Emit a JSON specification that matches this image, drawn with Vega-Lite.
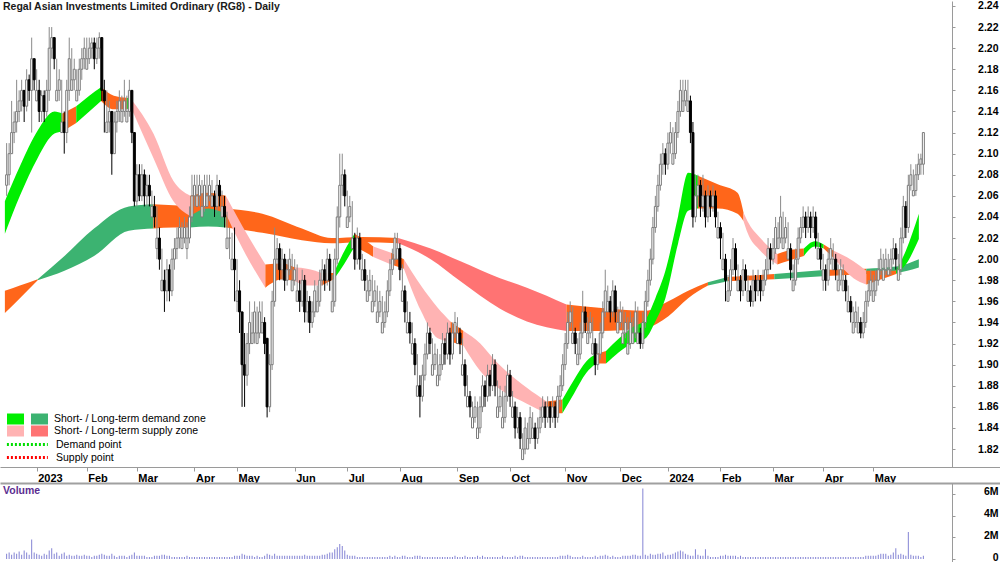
{
"$schema": "https://vega.github.io/schema/vega-lite/v6.json",
"padding": 0,
"background": "white",
"spacing": 0,
"config": {"view": {"stroke": null}, "font": "Liberation Sans", "axis": {"grid": false, "title": null, "labelOverlap": false, "labelFont": "Liberation Sans", "labelFontWeight": "bold", "labelFontSize": 11, "labelColor": "#000000", "domainColor": "#9a9a9a", "tickColor": "#9a9a9a"}},
"datasets": {
"px": [
{"t":-12,"o":2.07,"h":2.11,"l":2.06,"c":2.08,"v":0.5},{"t":-11,"o":2.08,"h":2.11,"l":2.07,"c":2.10,"v":0.6},{"t":-10,"o":2.10,"h":2.15,"l":2.10,"c":2.12,"v":0.4},{"t":-9,"o":2.12,"h":2.14,"l":2.11,"c":2.13,"v":0.6},{"t":-8,"o":2.13,"h":2.17,"l":2.12,"c":2.14,"v":0.5},{"t":-7,"o":2.14,"h":2.16,"l":2.13,"c":2.15,"v":0.7},{"t":-6,"o":2.15,"h":2.17,"l":2.14,"c":2.16,"v":0.4},{"t":-5,"o":2.16,"h":2.16,"l":2.13,"c":2.145,"v":0.8},{"t":-4,"o":2.145,"h":2.18,"l":2.14,"c":2.17,"v":0.6},{"t":-3,"o":2.17,"h":2.175,"l":2.15,"c":2.16,"v":0.4},{"t":-2,"o":2.16,"h":2.21,"l":2.12,"c":2.19,"v":1.8},{"t":-1,"o":2.19,"h":2.19,"l":2.16,"c":2.17,"v":0.6},
{"t":0,"o":2.15,"h":2.18,"l":2.15,"c":2.16,"v":0.5},{"t":1,"o":2.16,"h":2.17,"l":2.13,"c":2.14,"v":0.4},{"t":2,"o":2.14,"h":2.16,"l":2.13,"c":2.155,"v":0.3},{"t":3,"o":2.155,"h":2.16,"l":2.13,"c":2.14,"v":0.5},{"t":4,"o":2.14,"h":2.17,"l":2.135,"c":2.16,"v":0.4},{"t":5,"o":2.16,"h":2.22,"l":2.15,"c":2.20,"v":0.8},{"t":6,"o":2.20,"h":2.22,"l":2.19,"c":2.21,"v":1.0},{"t":7,"o":2.21,"h":2.21,"l":2.18,"c":2.19,"v":0.5},{"t":8,"o":2.15,"h":2.19,"l":2.15,"c":2.16,"v":0.6},{"t":9,"o":2.16,"h":2.18,"l":2.15,"c":2.17,"v":0.3},
{"t":10,"o":2.12,"h":2.17,"l":2.12,"c":2.13,"v":0.5},{"t":11,"o":2.13,"h":2.14,"l":2.10,"c":2.12,"v":0.6},{"t":12,"o":2.12,"h":2.17,"l":2.11,"c":2.16,"v":0.3},{"t":13,"o":2.16,"h":2.21,"l":2.15,"c":2.19,"v":0.4},{"t":14,"o":2.16,"h":2.20,"l":2.16,"c":2.17,"v":0.3},{"t":15,"o":2.17,"h":2.19,"l":2.16,"c":2.18,"v":0.3},{"t":16,"o":2.15,"h":2.18,"l":2.15,"c":2.16,"v":0.4},{"t":17,"o":2.16,"h":2.19,"l":2.155,"c":2.18,"v":0.3},{"t":18,"o":2.18,"h":2.20,"l":2.17,"c":2.19,"v":0.3},{"t":19,"o":2.19,"h":2.21,"l":2.18,"c":2.20,"v":0.4},
{"t":20,"o":2.18,"h":2.21,"l":2.18,"c":2.19,"v":0.3},{"t":21,"o":2.19,"h":2.21,"l":2.185,"c":2.20,"v":0.3},{"t":22,"o":2.20,"h":2.21,"l":2.19,"c":2.205,"v":0.2},{"t":23,"o":2.205,"h":2.21,"l":2.18,"c":2.19,"v":0.3},{"t":24,"o":2.19,"h":2.21,"l":2.185,"c":2.20,"v":0.3},{"t":25,"o":2.20,"h":2.215,"l":2.19,"c":2.21,"v":0.4},{"t":26,"o":2.21,"h":2.21,"l":2.15,"c":2.16,"v":0.5},{"t":27,"o":2.16,"h":2.17,"l":2.12,"c":2.15,"v":0.4},{"t":28,"o":2.12,"h":2.16,"l":2.12,"c":2.13,"v":0.3},{"t":29,"o":2.13,"h":2.15,"l":2.12,"c":2.14,"v":0.3},
{"t":30,"o":2.14,"h":2.14,"l":2.08,"c":2.10,"v":0.5},{"t":31,"o":2.10,"h":2.14,"l":2.10,"c":2.13,"v":0.3},{"t":32,"o":2.13,"h":2.15,"l":2.12,"c":2.14,"v":0.2},{"t":33,"o":2.14,"h":2.16,"l":2.13,"c":2.15,"v":0.3},{"t":34,"o":2.13,"h":2.155,"l":2.13,"c":2.14,"v":0.3},{"t":35,"o":2.14,"h":2.17,"l":2.135,"c":2.15,"v":0.3},{"t":36,"o":2.13,"h":2.155,"l":2.13,"c":2.14,"v":0.2},{"t":37,"o":2.14,"h":2.17,"l":2.135,"c":2.16,"v":0.3},{"t":38,"o":2.16,"h":2.16,"l":2.11,"c":2.12,"v":0.4},{"t":39,"o":2.12,"h":2.12,"l":2.05,"c":2.055,"v":0.6},
{"t":40,"o":2.055,"h":2.09,"l":2.05,"c":2.08,"v":0.3},{"t":41,"o":2.08,"h":2.09,"l":2.055,"c":2.06,"v":0.3},{"t":42,"o":2.06,"h":2.09,"l":2.055,"c":2.08,"v":0.3},{"t":43,"o":2.08,"h":2.085,"l":2.05,"c":2.06,"v":0.3},{"t":44,"o":2.06,"h":2.08,"l":2.05,"c":2.07,"v":0.2},{"t":45,"o":2.07,"h":2.08,"l":2.05,"c":2.06,"v":0.2},{"t":46,"o":2.04,"h":2.065,"l":2.04,"c":2.05,"v":0.2},{"t":47,"o":2.05,"h":2.06,"l":2.03,"c":2.04,"v":0.3},{"t":48,"o":2.01,"h":2.05,"l":2.00,"c":2.02,"v":0.3},{"t":49,"o":2.02,"h":2.03,"l":1.99,"c":2.00,"v":0.3},
{"t":50,"o":1.97,"h":2.01,"l":1.97,"c":1.98,"v":0.4},{"t":51,"o":1.98,"h":1.99,"l":1.95,"c":1.97,"v":0.4},{"t":52,"o":1.97,"h":2.00,"l":1.96,"c":1.99,"v":0.3},{"t":53,"o":1.99,"h":1.995,"l":1.96,"c":1.97,"v":0.3},{"t":54,"o":1.97,"h":2.01,"l":1.965,"c":2.00,"v":0.2},{"t":55,"o":2.00,"h":2.02,"l":1.99,"c":2.01,"v":0.2},{"t":56,"o":2.01,"h":2.03,"l":2.00,"c":2.02,"v":0.2},{"t":57,"o":2.02,"h":2.04,"l":2.01,"c":2.03,"v":0.2},{"t":58,"o":2.01,"h":2.035,"l":2.01,"c":2.02,"v":0.2},{"t":59,"o":2.02,"h":2.04,"l":2.015,"c":2.03,"v":0.2},
{"t":60,"o":2.01,"h":2.035,"l":2.00,"c":2.02,"v":0.3},{"t":61,"o":2.02,"h":2.05,"l":2.015,"c":2.04,"v":0.2},{"t":62,"o":2.04,"h":2.08,"l":2.035,"c":2.06,"v":0.2},{"t":63,"o":2.06,"h":2.08,"l":2.05,"c":2.07,"v":0.2},{"t":64,"o":2.05,"h":2.08,"l":2.05,"c":2.06,"v":0.2},{"t":65,"o":2.06,"h":2.08,"l":2.05,"c":2.07,"v":0.2},{"t":66,"o":2.04,"h":2.075,"l":2.04,"c":2.05,"v":0.2},{"t":67,"o":2.05,"h":2.08,"l":2.045,"c":2.07,"v":0.2},{"t":68,"o":2.05,"h":2.08,"l":2.05,"c":2.06,"v":0.2},{"t":69,"o":2.06,"h":2.08,"l":2.055,"c":2.07,"v":0.2},
{"t":70,"o":2.05,"h":2.075,"l":2.05,"c":2.06,"v":0.2},{"t":71,"o":2.06,"h":2.065,"l":2.04,"c":2.05,"v":0.2},{"t":72,"o":2.05,"h":2.08,"l":2.045,"c":2.07,"v":0.2},{"t":73,"o":2.07,"h":2.075,"l":2.05,"c":2.06,"v":0.2},{"t":74,"o":2.04,"h":2.065,"l":2.04,"c":2.05,"v":0.2},{"t":75,"o":2.05,"h":2.06,"l":2.03,"c":2.04,"v":0.2},{"t":76,"o":2.01,"h":2.045,"l":2.01,"c":2.02,"v":0.2},{"t":77,"o":2.02,"h":2.03,"l":2.00,"c":2.02,"v":0.2},{"t":78,"o":1.99,"h":2.025,"l":1.99,"c":2.00,"v":0.2},{"t":79,"o":2.00,"h":2.03,"l":1.96,"c":1.99,"v":0.3},
{"t":80,"o":1.96,"h":2.00,"l":1.95,"c":1.97,"v":0.3},{"t":81,"o":1.97,"h":1.98,"l":1.93,"c":1.95,"v":0.3},{"t":82,"o":1.95,"h":1.95,"l":1.86,"c":1.90,"v":0.5},{"t":83,"o":1.90,"h":1.93,"l":1.86,"c":1.89,"v":0.4},{"t":84,"o":1.89,"h":1.93,"l":1.88,"c":1.92,"v":0.3},{"t":85,"o":1.92,"h":1.96,"l":1.91,"c":1.94,"v":0.3},{"t":86,"o":1.92,"h":1.95,"l":1.92,"c":1.93,"v":0.3},{"t":87,"o":1.93,"h":1.96,"l":1.92,"c":1.95,"v":0.2},{"t":88,"o":1.92,"h":1.955,"l":1.92,"c":1.93,"v":0.3},{"t":89,"o":1.93,"h":1.96,"l":1.925,"c":1.95,"v":0.2},
{"t":90,"o":1.93,"h":1.96,"l":1.93,"c":1.94,"v":0.2},{"t":91,"o":1.94,"h":1.945,"l":1.91,"c":1.92,"v":0.3},{"t":92,"o":1.925,"h":1.925,"l":1.85,"c":1.86,"v":0.5},{"t":93,"o":1.86,"h":1.91,"l":1.855,"c":1.90,"v":0.4},{"t":94,"o":1.90,"h":1.97,"l":1.895,"c":1.96,"v":0.3},{"t":95,"o":1.96,"h":2.03,"l":1.955,"c":2.00,"v":0.5},{"t":96,"o":2.00,"h":2.02,"l":1.99,"c":2.01,"v":0.3},{"t":97,"o":2.01,"h":2.015,"l":1.98,"c":1.99,"v":0.3},{"t":98,"o":1.99,"h":2.01,"l":1.98,"c":2.00,"v":0.3},{"t":99,"o":2.00,"h":2.005,"l":1.97,"c":1.98,"v":0.3},
{"t":100,"o":1.98,"h":2.00,"l":1.975,"c":1.99,"v":0.3},{"t":101,"o":1.99,"h":2.01,"l":1.985,"c":2.00,"v":0.3},{"t":102,"o":1.97,"h":2.005,"l":1.97,"c":1.98,"v":0.3},{"t":103,"o":1.98,"h":2.00,"l":1.975,"c":1.99,"v":0.3},{"t":104,"o":1.96,"h":1.995,"l":1.96,"c":1.97,"v":0.3},{"t":105,"o":1.97,"h":1.98,"l":1.95,"c":1.96,"v":0.3},{"t":106,"o":1.96,"h":1.99,"l":1.955,"c":1.98,"v":0.3},{"t":107,"o":1.98,"h":1.985,"l":1.94,"c":1.95,"v":0.4},{"t":108,"o":1.95,"h":1.97,"l":1.94,"c":1.96,"v":0.3},{"t":109,"o":1.96,"h":1.965,"l":1.93,"c":1.94,"v":0.3},
{"t":110,"o":1.94,"h":1.96,"l":1.935,"c":1.95,"v":0.3},{"t":111,"o":1.95,"h":1.98,"l":1.945,"c":1.97,"v":0.3},{"t":112,"o":1.95,"h":1.975,"l":1.95,"c":1.96,"v":0.3},{"t":113,"o":1.96,"h":1.99,"l":1.955,"c":1.98,"v":0.3},{"t":114,"o":1.98,"h":2.00,"l":1.975,"c":1.99,"v":0.4},{"t":115,"o":1.99,"h":1.995,"l":1.97,"c":1.98,"v":0.4},{"t":116,"o":1.98,"h":2.01,"l":1.975,"c":2.00,"v":0.5},{"t":117,"o":2.00,"h":2.005,"l":1.97,"c":1.98,"v":0.6},{"t":118,"o":1.95,"h":1.985,"l":1.95,"c":1.96,"v":0.6},{"t":119,"o":1.96,"h":2.01,"l":1.955,"c":2.00,"v":0.9},
{"t":120,"o":2.00,"h":2.05,"l":1.995,"c":2.04,"v":1.1},{"t":121,"o":2.04,"h":2.10,"l":2.03,"c":2.07,"v":1.4},{"t":122,"o":2.07,"h":2.10,"l":2.06,"c":2.08,"v":1.2},{"t":123,"o":2.08,"h":2.085,"l":2.05,"c":2.06,"v":0.8},{"t":124,"o":2.03,"h":2.065,"l":2.03,"c":2.04,"v":0.4},{"t":125,"o":2.04,"h":2.06,"l":2.035,"c":2.05,"v":0.3},{"t":126,"o":2.01,"h":2.055,"l":2.01,"c":2.02,"v":0.3},{"t":127,"o":2.02,"h":2.025,"l":1.99,"c":2.00,"v":0.3},{"t":128,"o":2.00,"h":2.03,"l":1.995,"c":2.02,"v":0.2},{"t":129,"o":2.02,"h":2.025,"l":1.99,"c":2.00,"v":0.2},
{"t":130,"o":1.98,"h":2.005,"l":1.98,"c":1.99,"v":0.2},{"t":131,"o":1.99,"h":2.00,"l":1.97,"c":1.98,"v":0.2},{"t":132,"o":1.96,"h":1.985,"l":1.96,"c":1.97,"v":0.2},{"t":133,"o":1.97,"h":1.99,"l":1.965,"c":1.98,"v":0.2},{"t":134,"o":1.95,"h":1.985,"l":1.95,"c":1.96,"v":0.2},{"t":135,"o":1.96,"h":1.98,"l":1.955,"c":1.97,"v":0.2},{"t":136,"o":1.94,"h":1.975,"l":1.94,"c":1.95,"v":0.2},{"t":137,"o":1.95,"h":1.97,"l":1.945,"c":1.96,"v":0.2},{"t":138,"o":1.93,"h":1.965,"l":1.93,"c":1.94,"v":0.2},{"t":139,"o":1.94,"h":1.96,"l":1.935,"c":1.95,"v":0.2},
{"t":140,"o":1.95,"h":1.98,"l":1.945,"c":1.97,"v":0.2},{"t":141,"o":1.97,"h":2.00,"l":1.965,"c":1.99,"v":0.3},{"t":142,"o":1.99,"h":2.01,"l":1.985,"c":2.00,"v":0.2},{"t":143,"o":2.00,"h":2.025,"l":1.995,"c":2.02,"v":0.3},{"t":144,"o":2.00,"h":2.025,"l":2.00,"c":2.01,"v":0.2},{"t":145,"o":2.01,"h":2.015,"l":1.98,"c":1.99,"v":0.2},{"t":146,"o":1.96,"h":1.995,"l":1.96,"c":1.97,"v":0.3},{"t":147,"o":1.97,"h":1.975,"l":1.94,"c":1.95,"v":0.3},{"t":148,"o":1.93,"h":1.96,"l":1.93,"c":1.94,"v":0.2},{"t":149,"o":1.94,"h":1.95,"l":1.92,"c":1.93,"v":0.2},
{"t":150,"o":1.91,"h":1.94,"l":1.91,"c":1.92,"v":0.2},{"t":151,"o":1.92,"h":1.925,"l":1.89,"c":1.90,"v":0.3},{"t":152,"o":1.87,"h":1.91,"l":1.87,"c":1.88,"v":0.3},{"t":153,"o":1.88,"h":1.89,"l":1.85,"c":1.87,"v":0.3},{"t":154,"o":1.87,"h":1.90,"l":1.865,"c":1.89,"v":0.2},{"t":155,"o":1.89,"h":1.92,"l":1.885,"c":1.91,"v":0.2},{"t":156,"o":1.91,"h":1.94,"l":1.905,"c":1.93,"v":0.2},{"t":157,"o":1.93,"h":1.935,"l":1.91,"c":1.92,"v":0.2},{"t":158,"o":1.89,"h":1.925,"l":1.89,"c":1.90,"v":0.2},{"t":159,"o":1.90,"h":1.92,"l":1.895,"c":1.91,"v":0.2},
{"t":160,"o":1.88,"h":1.915,"l":1.88,"c":1.89,"v":0.2},{"t":161,"o":1.89,"h":1.91,"l":1.885,"c":1.90,"v":0.2},{"t":162,"o":1.90,"h":1.93,"l":1.895,"c":1.92,"v":0.2},{"t":163,"o":1.92,"h":1.925,"l":1.90,"c":1.91,"v":0.2},{"t":164,"o":1.91,"h":1.94,"l":1.905,"c":1.93,"v":0.2},{"t":165,"o":1.93,"h":1.935,"l":1.90,"c":1.91,"v":0.2},{"t":166,"o":1.91,"h":1.94,"l":1.905,"c":1.93,"v":0.2},{"t":167,"o":1.93,"h":1.95,"l":1.925,"c":1.94,"v":0.3},{"t":168,"o":1.92,"h":1.945,"l":1.92,"c":1.93,"v":0.2},{"t":169,"o":1.93,"h":1.935,"l":1.91,"c":1.92,"v":0.2},
{"t":170,"o":1.89,"h":1.925,"l":1.89,"c":1.90,"v":0.2},{"t":171,"o":1.90,"h":1.905,"l":1.87,"c":1.88,"v":0.3},{"t":172,"o":1.86,"h":1.89,"l":1.86,"c":1.87,"v":0.2},{"t":173,"o":1.87,"h":1.875,"l":1.85,"c":1.86,"v":0.2},{"t":174,"o":1.84,"h":1.865,"l":1.84,"c":1.85,"v":0.2},{"t":175,"o":1.85,"h":1.87,"l":1.845,"c":1.86,"v":0.2},{"t":176,"o":1.83,"h":1.865,"l":1.83,"c":1.84,"v":0.3},{"t":177,"o":1.84,"h":1.87,"l":1.835,"c":1.86,"v":0.2},{"t":178,"o":1.86,"h":1.89,"l":1.855,"c":1.88,"v":0.3},{"t":179,"o":1.88,"h":1.885,"l":1.86,"c":1.87,"v":0.2},
{"t":180,"o":1.87,"h":1.90,"l":1.865,"c":1.89,"v":0.2},{"t":181,"o":1.89,"h":1.895,"l":1.87,"c":1.88,"v":0.2},{"t":182,"o":1.88,"h":1.91,"l":1.875,"c":1.90,"v":0.2},{"t":183,"o":1.90,"h":1.905,"l":1.87,"c":1.88,"v":0.2},{"t":184,"o":1.85,"h":1.885,"l":1.85,"c":1.86,"v":0.2},{"t":185,"o":1.86,"h":1.88,"l":1.855,"c":1.87,"v":0.2},{"t":186,"o":1.84,"h":1.875,"l":1.84,"c":1.85,"v":0.3},{"t":187,"o":1.85,"h":1.88,"l":1.845,"c":1.87,"v":0.2},{"t":188,"o":1.87,"h":1.90,"l":1.865,"c":1.89,"v":0.2},{"t":189,"o":1.89,"h":1.895,"l":1.86,"c":1.87,"v":0.2},
{"t":190,"o":1.85,"h":1.875,"l":1.85,"c":1.86,"v":0.2},{"t":191,"o":1.86,"h":1.865,"l":1.83,"c":1.84,"v":0.3},{"t":192,"o":1.84,"h":1.86,"l":1.835,"c":1.85,"v":0.2},{"t":193,"o":1.85,"h":1.855,"l":1.82,"c":1.83,"v":0.3},{"t":194,"o":1.81,"h":1.835,"l":1.81,"c":1.82,"v":0.3},{"t":195,"o":1.82,"h":1.85,"l":1.815,"c":1.84,"v":0.2},{"t":196,"o":1.82,"h":1.845,"l":1.82,"c":1.83,"v":0.2},{"t":197,"o":1.83,"h":1.86,"l":1.825,"c":1.85,"v":0.2},{"t":198,"o":1.83,"h":1.855,"l":1.83,"c":1.84,"v":0.2},{"t":199,"o":1.84,"h":1.845,"l":1.82,"c":1.83,"v":0.2},
{"t":200,"o":1.83,"h":1.85,"l":1.825,"c":1.84,"v":0.2},{"t":201,"o":1.84,"h":1.86,"l":1.835,"c":1.85,"v":0.2},{"t":202,"o":1.85,"h":1.87,"l":1.845,"c":1.86,"v":0.2},{"t":203,"o":1.86,"h":1.865,"l":1.84,"c":1.85,"v":0.2},{"t":204,"o":1.85,"h":1.87,"l":1.845,"c":1.86,"v":0.2},{"t":205,"o":1.86,"h":1.865,"l":1.84,"c":1.85,"v":0.2},{"t":206,"o":1.85,"h":1.87,"l":1.845,"c":1.86,"v":0.2},{"t":207,"o":1.86,"h":1.865,"l":1.84,"c":1.85,"v":0.2},{"t":208,"o":1.85,"h":1.88,"l":1.845,"c":1.87,"v":0.2},{"t":209,"o":1.87,"h":1.89,"l":1.86,"c":1.88,"v":0.3},
{"t":210,"o":1.88,"h":1.91,"l":1.875,"c":1.90,"v":0.3},{"t":211,"o":1.90,"h":1.93,"l":1.895,"c":1.92,"v":0.3},{"t":212,"o":1.92,"h":1.95,"l":1.915,"c":1.94,"v":0.4},{"t":213,"o":1.94,"h":1.96,"l":1.935,"c":1.95,"v":0.3},{"t":214,"o":1.92,"h":1.955,"l":1.92,"c":1.93,"v":0.2},{"t":215,"o":1.93,"h":1.935,"l":1.91,"c":1.92,"v":0.2},{"t":216,"o":1.90,"h":1.925,"l":1.90,"c":1.91,"v":0.2},{"t":217,"o":1.91,"h":1.94,"l":1.905,"c":1.93,"v":0.2},{"t":218,"o":1.93,"h":1.97,"l":1.925,"c":1.95,"v":0.3},{"t":219,"o":1.95,"h":1.955,"l":1.93,"c":1.94,"v":0.2},
{"t":220,"o":1.92,"h":1.945,"l":1.92,"c":1.93,"v":0.2},{"t":221,"o":1.93,"h":1.95,"l":1.925,"c":1.94,"v":0.2},{"t":222,"o":1.91,"h":1.945,"l":1.91,"c":1.92,"v":0.2},{"t":223,"o":1.92,"h":1.925,"l":1.89,"c":1.90,"v":0.3},{"t":224,"o":1.90,"h":1.92,"l":1.895,"c":1.91,"v":0.2},{"t":225,"o":1.91,"h":1.94,"l":1.905,"c":1.93,"v":0.3},{"t":226,"o":1.93,"h":1.96,"l":1.925,"c":1.95,"v":0.3},{"t":227,"o":1.95,"h":1.99,"l":1.945,"c":1.97,"v":0.4},{"t":228,"o":1.95,"h":1.975,"l":1.95,"c":1.96,"v":0.3},{"t":229,"o":1.96,"h":1.965,"l":1.94,"c":1.95,"v":0.2},
{"t":230,"o":1.95,"h":1.98,"l":1.945,"c":1.97,"v":0.3},{"t":231,"o":1.97,"h":1.975,"l":1.94,"c":1.95,"v":0.2},{"t":232,"o":1.93,"h":1.955,"l":1.93,"c":1.94,"v":0.2},{"t":233,"o":1.94,"h":1.96,"l":1.935,"c":1.95,"v":0.2},{"t":234,"o":1.92,"h":1.955,"l":1.92,"c":1.93,"v":0.3},{"t":235,"o":1.93,"h":1.95,"l":1.925,"c":1.94,"v":0.3},{"t":236,"o":1.91,"h":1.945,"l":1.91,"c":1.92,"v":0.3},{"t":237,"o":1.92,"h":1.95,"l":1.915,"c":1.94,"v":0.3},{"t":238,"o":1.92,"h":1.945,"l":1.92,"c":1.93,"v":0.4},{"t":239,"o":1.93,"h":1.96,"l":1.925,"c":1.95,"v":0.4},
{"t":240,"o":1.92,"h":1.955,"l":1.92,"c":1.93,"v":0.3},{"t":241,"o":1.93,"h":1.935,"l":1.915,"c":1.92,"v":0.3},{"t":242,"o":1.92,"h":1.95,"l":1.915,"c":1.94,"v":6.5},{"t":243,"o":1.94,"h":1.97,"l":1.935,"c":1.96,"v":0.4},{"t":244,"o":1.96,"h":1.99,"l":1.955,"c":1.98,"v":0.3},{"t":245,"o":1.98,"h":2.01,"l":1.975,"c":2.00,"v":0.5},{"t":246,"o":2.00,"h":2.04,"l":1.995,"c":2.03,"v":0.4},{"t":247,"o":2.03,"h":2.06,"l":2.025,"c":2.05,"v":0.4},{"t":248,"o":2.05,"h":2.08,"l":2.045,"c":2.07,"v":0.5},{"t":249,"o":2.07,"h":2.10,"l":2.065,"c":2.09,"v":0.5},
{"t":250,"o":2.09,"h":2.11,"l":2.08,"c":2.10,"v":0.6},{"t":251,"o":2.10,"h":2.105,"l":2.08,"c":2.09,"v":0.3},{"t":252,"o":2.09,"h":2.12,"l":2.085,"c":2.11,"v":0.4},{"t":253,"o":2.11,"h":2.13,"l":2.10,"c":2.12,"v":0.4},{"t":254,"o":2.09,"h":2.125,"l":2.09,"c":2.10,"v":0.5},{"t":255,"o":2.10,"h":2.13,"l":2.095,"c":2.12,"v":0.6},{"t":256,"o":2.12,"h":2.15,"l":2.115,"c":2.14,"v":0.7},{"t":257,"o":2.14,"h":2.17,"l":2.135,"c":2.16,"v":0.8},{"t":258,"o":2.14,"h":2.17,"l":2.14,"c":2.15,"v":0.7},{"t":259,"o":2.15,"h":2.17,"l":2.145,"c":2.16,"v":0.5},
{"t":260,"o":2.14,"h":2.17,"l":2.14,"c":2.15,"v":0.4},{"t":261,"o":2.15,"h":2.155,"l":2.11,"c":2.12,"v":0.3},{"t":262,"o":2.12,"h":2.13,"l":2.03,"c":2.04,"v":0.3},{"t":263,"o":2.04,"h":2.08,"l":2.035,"c":2.06,"v":0.9},{"t":264,"o":2.06,"h":2.08,"l":2.05,"c":2.07,"v":0.4},{"t":265,"o":2.07,"h":2.075,"l":2.04,"c":2.05,"v":0.3},{"t":266,"o":2.05,"h":2.08,"l":2.045,"c":2.06,"v":0.3},{"t":267,"o":2.06,"h":2.065,"l":2.03,"c":2.04,"v":0.9},{"t":268,"o":2.04,"h":2.07,"l":2.035,"c":2.06,"v":0.3},{"t":269,"o":2.06,"h":2.065,"l":2.04,"c":2.05,"v":0.2},
{"t":270,"o":2.05,"h":2.07,"l":2.045,"c":2.06,"v":0.2},{"t":271,"o":2.06,"h":2.065,"l":2.03,"c":2.04,"v":0.2},{"t":272,"o":2.02,"h":2.045,"l":2.02,"c":2.03,"v":0.2},{"t":273,"o":2.03,"h":2.035,"l":2.00,"c":2.02,"v":0.3},{"t":274,"o":1.99,"h":2.025,"l":1.99,"c":2.00,"v":0.3},{"t":275,"o":2.00,"h":2.005,"l":1.96,"c":1.98,"v":0.4},{"t":276,"o":1.96,"h":1.985,"l":1.96,"c":1.97,"v":0.3},{"t":277,"o":1.97,"h":2.00,"l":1.965,"c":1.99,"v":0.3},{"t":278,"o":1.99,"h":2.02,"l":1.985,"c":2.01,"v":0.3},{"t":279,"o":2.01,"h":2.015,"l":1.98,"c":1.99,"v":0.3},
{"t":280,"o":1.97,"h":1.995,"l":1.97,"c":1.98,"v":0.2},{"t":281,"o":1.98,"h":1.985,"l":1.96,"c":1.97,"v":0.3},{"t":282,"o":1.97,"h":2.00,"l":1.965,"c":1.99,"v":0.2},{"t":283,"o":1.99,"h":1.995,"l":1.97,"c":1.98,"v":0.2},{"t":284,"o":1.96,"h":1.985,"l":1.96,"c":1.97,"v":0.2},{"t":285,"o":1.97,"h":1.975,"l":1.955,"c":1.96,"v":0.2},{"t":286,"o":1.96,"h":1.99,"l":1.955,"c":1.98,"v":0.2},{"t":287,"o":1.98,"h":1.985,"l":1.96,"c":1.97,"v":0.2},{"t":288,"o":1.97,"h":1.99,"l":1.965,"c":1.98,"v":0.2},{"t":289,"o":1.98,"h":1.985,"l":1.96,"c":1.97,"v":0.2},
{"t":290,"o":1.97,"h":1.99,"l":1.965,"c":1.98,"v":0.2},{"t":291,"o":1.98,"h":2.00,"l":1.975,"c":1.99,"v":0.2},{"t":292,"o":1.99,"h":2.02,"l":1.985,"c":2.01,"v":0.2},{"t":293,"o":2.01,"h":2.015,"l":1.99,"c":2.00,"v":0.2},{"t":294,"o":2.00,"h":2.02,"l":1.995,"c":2.01,"v":0.2},{"t":295,"o":2.01,"h":2.04,"l":2.005,"c":2.03,"v":0.2},{"t":296,"o":2.01,"h":2.035,"l":2.01,"c":2.02,"v":0.2},{"t":297,"o":2.02,"h":2.06,"l":2.015,"c":2.04,"v":0.2},{"t":298,"o":2.01,"h":2.045,"l":2.01,"c":2.02,"v":0.2},{"t":299,"o":2.02,"h":2.04,"l":2.015,"c":2.03,"v":0.2},
{"t":300,"o":2.00,"h":2.035,"l":2.00,"c":2.01,"v":0.2},{"t":301,"o":2.01,"h":2.015,"l":1.98,"c":1.99,"v":0.2},{"t":302,"o":1.97,"h":1.995,"l":1.97,"c":1.98,"v":0.2},{"t":303,"o":1.98,"h":2.01,"l":1.975,"c":2.00,"v":0.2},{"t":304,"o":2.00,"h":2.03,"l":1.995,"c":2.02,"v":0.2},{"t":305,"o":2.02,"h":2.04,"l":2.015,"c":2.03,"v":0.2},{"t":306,"o":2.03,"h":2.05,"l":2.025,"c":2.04,"v":0.2},{"t":307,"o":2.04,"h":2.045,"l":2.02,"c":2.03,"v":0.2},{"t":308,"o":2.03,"h":2.05,"l":2.025,"c":2.04,"v":0.2},{"t":309,"o":2.04,"h":2.045,"l":2.02,"c":2.03,"v":0.2},
{"t":310,"o":2.03,"h":2.05,"l":2.025,"c":2.04,"v":0.2},{"t":311,"o":2.04,"h":2.045,"l":2.01,"c":2.02,"v":0.2},{"t":312,"o":2.00,"h":2.025,"l":2.00,"c":2.01,"v":0.2},{"t":313,"o":2.01,"h":2.015,"l":1.99,"c":2.00,"v":0.2},{"t":314,"o":1.98,"h":2.005,"l":1.97,"c":1.99,"v":0.2},{"t":315,"o":1.99,"h":1.995,"l":1.97,"c":1.98,"v":0.2},{"t":316,"o":1.98,"h":2.01,"l":1.975,"c":2.00,"v":0.2},{"t":317,"o":2.00,"h":2.02,"l":1.995,"c":2.01,"v":0.2},{"t":318,"o":1.99,"h":2.015,"l":1.99,"c":2.00,"v":0.2},{"t":319,"o":2.00,"h":2.005,"l":1.98,"c":1.99,"v":0.2},
{"t":320,"o":1.97,"h":1.995,"l":1.97,"c":1.98,"v":0.2},{"t":321,"o":1.98,"h":2.00,"l":1.975,"c":1.99,"v":0.2},{"t":322,"o":1.97,"h":1.995,"l":1.97,"c":1.98,"v":0.2},{"t":323,"o":1.98,"h":1.985,"l":1.96,"c":1.97,"v":0.2},{"t":324,"o":1.95,"h":1.975,"l":1.95,"c":1.96,"v":0.2},{"t":325,"o":1.96,"h":1.965,"l":1.94,"c":1.95,"v":0.2},{"t":326,"o":1.93,"h":1.955,"l":1.93,"c":1.94,"v":0.2},{"t":327,"o":1.94,"h":1.96,"l":1.935,"c":1.95,"v":0.2},{"t":328,"o":1.93,"h":1.955,"l":1.93,"c":1.94,"v":0.2},{"t":329,"o":1.94,"h":1.945,"l":1.925,"c":1.93,"v":0.2},
{"t":330,"o":1.93,"h":1.95,"l":1.925,"c":1.94,"v":0.2},{"t":331,"o":1.94,"h":1.97,"l":1.935,"c":1.96,"v":0.3},{"t":332,"o":1.96,"h":1.98,"l":1.955,"c":1.97,"v":0.3},{"t":333,"o":1.97,"h":1.99,"l":1.965,"c":1.98,"v":0.3},{"t":334,"o":1.96,"h":1.985,"l":1.96,"c":1.97,"v":0.3},{"t":335,"o":1.97,"h":1.99,"l":1.965,"c":1.98,"v":0.3},{"t":336,"o":1.98,"h":2.00,"l":1.975,"c":1.99,"v":0.4},{"t":337,"o":1.99,"h":2.01,"l":1.985,"c":2.00,"v":0.5},{"t":338,"o":1.98,"h":2.005,"l":1.98,"c":1.99,"v":0.5},{"t":339,"o":1.99,"h":2.01,"l":1.985,"c":2.00,"v":0.5},
{"t":340,"o":1.985,"h":2.005,"l":1.985,"c":1.99,"v":0.3},{"t":341,"o":1.99,"h":2.01,"l":1.985,"c":2.00,"v":0.4},{"t":342,"o":2.00,"h":2.02,"l":1.995,"c":2.01,"v":0.6},{"t":343,"o":2.01,"h":2.015,"l":1.99,"c":2.00,"v":1.0},{"t":344,"o":1.98,"h":2.005,"l":1.98,"c":1.99,"v":0.4},{"t":345,"o":1.99,"h":2.03,"l":1.985,"c":2.02,"v":0.5},{"t":346,"o":2.02,"h":2.06,"l":2.015,"c":2.05,"v":0.4},{"t":347,"o":2.05,"h":2.055,"l":2.02,"c":2.03,"v":0.3},{"t":348,"o":2.03,"h":2.08,"l":2.025,"c":2.07,"v":2.5},{"t":349,"o":2.07,"h":2.09,"l":2.065,"c":2.08,"v":0.4},
{"t":350,"o":2.06,"h":2.085,"l":2.06,"c":2.065,"v":0.3},{"t":351,"o":2.065,"h":2.09,"l":2.06,"c":2.08,"v":0.3},{"t":352,"o":2.08,"h":2.10,"l":2.075,"c":2.09,"v":0.3},{"t":353,"o":2.09,"h":2.10,"l":2.08,"c":2.095,"v":0.2},{"t":354,"o":2.09,"h":2.12,"l":2.08,"c":2.12,"v":0.3}
],
"lt": [
{"t":-12.7,"hi":1.970,"lo":1.949,"z":"N","s":1},{"t":-6.7,"hi":1.975,"lo":1.963,"z":"N","s":1},{"t":0.4,"hi":1.981,"lo":1.980,"z":"N","s":1},
{"t":0.4,"hi":1.981,"lo":1.980,"z":"LD","s":2},{"t":11.1,"hi":2.003,"lo":1.989,"z":"LD","s":2},{"t":22.9,"hi":2.029,"lo":2.003,"z":"LD","s":2},{"t":36.8,"hi":2.050,"lo":2.027,"z":"LD","s":2},{"t":46.6,"hi":2.052,"lo":2.029,"z":"LD","s":2},
{"t":46.6,"hi":2.052,"lo":2.029,"z":"N","s":3},{"t":54.6,"hi":2.051,"lo":2.030,"z":"N","s":3},{"t":61.3,"hi":2.050,"lo":2.030,"z":"N","s":3},
{"t":61.3,"hi":2.050,"lo":2.030,"z":"LD","s":4},{"t":68.4,"hi":2.049,"lo":2.031,"z":"LD","s":4},{"t":75.5,"hi":2.048,"lo":2.030,"z":"LD","s":4},
{"t":75.5,"hi":2.048,"lo":2.030,"z":"N","s":5},{"t":90.1,"hi":2.043,"lo":2.025,"z":"N","s":5},{"t":105.9,"hi":2.029,"lo":2.018,"z":"N","s":5},{"t":117.8,"hi":2.020,"lo":2.015,"z":"N","s":5},{"t":129.6,"hi":2.021,"lo":2.016,"z":"N","s":5},{"t":144.3,"hi":2.020,"lo":2.015,"z":"N","s":5},
{"t":144.3,"hi":2.020,"lo":2.015,"z":"LS","s":6},{"t":157.3,"hi":2.010,"lo":2.000,"z":"LS","s":6},{"t":169.2,"hi":1.998,"lo":1.979,"z":"LS","s":6},{"t":185.0,"hi":1.982,"lo":1.953,"z":"LS","s":6},{"t":195.7,"hi":1.973,"lo":1.941,"z":"LS","s":6},{"t":211.5,"hi":1.957,"lo":1.932,"z":"LS","s":6},
{"t":211.5,"hi":1.957,"lo":1.932,"z":"N","s":7},{"t":224.5,"hi":1.954,"lo":1.932,"z":"N","s":7},{"t":243.1,"hi":1.951,"lo":1.935,"z":"N","s":7},{"t":252.2,"hi":1.960,"lo":1.946,"z":"N","s":7},{"t":260.1,"hi":1.970,"lo":1.963,"z":"N","s":7},{"t":268.0,"hi":1.978,"lo":1.975,"z":"N","s":7},
{"t":268.0,"hi":1.978,"lo":1.975,"z":"LD","s":8},{"t":275.9,"hi":1.983,"lo":1.979,"z":"LD","s":8},
{"t":275.9,"hi":1.983,"lo":1.979,"z":"N","s":9},{"t":294.5,"hi":1.986,"lo":1.981,"z":"N","s":9},
{"t":294.5,"hi":1.986,"lo":1.981,"z":"LD","s":10},{"t":315.4,"hi":1.990,"lo":1.984,"z":"LD","s":10},
{"t":315.4,"hi":1.990,"lo":1.984,"z":"N","s":11},{"t":331.2,"hi":1.991,"lo":1.986,"z":"N","s":11},
{"t":331.2,"hi":1.991,"lo":1.986,"z":"LD","s":12},{"t":343.1,"hi":1.993,"lo":1.987,"z":"LD","s":12},{"t":352.2,"hi":2.000,"lo":1.992,"z":"LD","s":12}
],
"st": [
{"t":-12.7,"hi":2.055,"lo":2.024,"z":"SD","s":1},{"t":-6.7,"hi":2.088,"lo":2.060,"z":"SD","s":1},{"t":0.4,"hi":2.122,"lo":2.096,"z":"SD","s":1},{"t":7.1,"hi":2.140,"lo":2.119,"z":"SD","s":1},{"t":10.3,"hi":2.138,"lo":2.121,"z":"SD","s":1},
{"t":10.3,"hi":2.138,"lo":2.121,"z":"N","s":2},{"t":15.8,"hi":2.145,"lo":2.129,"z":"N","s":2},
{"t":15.8,"hi":2.145,"lo":2.129,"z":"SD","s":3},{"t":21.0,"hi":2.155,"lo":2.140,"z":"SD","s":3},{"t":25.7,"hi":2.163,"lo":2.150,"z":"SD","s":3},
{"t":25.7,"hi":2.163,"lo":2.150,"z":"N","s":4},{"t":30.8,"hi":2.155,"lo":2.142,"z":"N","s":4},{"t":36.0,"hi":2.153,"lo":2.142,"z":"N","s":4},
{"t":36.0,"hi":2.153,"lo":2.142,"z":"SD","s":5},{"t":37.6,"hi":2.152,"lo":2.144,"z":"SD","s":5},
{"t":37.6,"hi":2.152,"lo":2.144,"z":"SS","s":6},{"t":46.6,"hi":2.119,"lo":2.096,"z":"SS","s":6},{"t":54.6,"hi":2.074,"lo":2.055,"z":"SS","s":6},{"t":61.3,"hi":2.060,"lo":2.041,"z":"SS","s":6},
{"t":61.3,"hi":2.060,"lo":2.041,"z":"N","s":7},{"t":68.4,"hi":2.063,"lo":2.048,"z":"N","s":7},{"t":75.5,"hi":2.060,"lo":2.043,"z":"N","s":7},
{"t":75.5,"hi":2.060,"lo":2.043,"z":"SS","s":8},{"t":82.2,"hi":2.031,"lo":2.010,"z":"SS","s":8},{"t":91.3,"hi":1.995,"lo":1.973,"z":"SS","s":8},
{"t":91.3,"hi":1.995,"lo":1.973,"z":"N","s":9},{"t":98.0,"hi":1.996,"lo":1.981,"z":"N","s":9},{"t":103.2,"hi":1.992,"lo":1.979,"z":"N","s":9},
{"t":103.2,"hi":1.992,"lo":1.979,"z":"SS","s":10},{"t":107.9,"hi":1.991,"lo":1.975,"z":"SS","s":10},{"t":113.8,"hi":1.987,"lo":1.975,"z":"SS","s":10},
{"t":113.8,"hi":1.987,"lo":1.975,"z":"N","s":11},{"t":118.6,"hi":1.987,"lo":1.981,"z":"N","s":11},
{"t":118.6,"hi":1.987,"lo":1.981,"z":"SD","s":12},{"t":122.9,"hi":2.008,"lo":1.996,"z":"SD","s":12},{"t":126.9,"hi":2.024,"lo":2.012,"z":"SD","s":12},
{"t":126.9,"hi":2.024,"lo":2.012,"z":"N","s":13},{"t":131.6,"hi":2.017,"lo":2.006,"z":"N","s":13},{"t":134.4,"hi":2.012,"lo":2.002,"z":"N","s":13},
{"t":134.4,"hi":2.012,"lo":2.002,"z":"SS","s":14},{"t":141.5,"hi":2.006,"lo":1.995,"z":"SS","s":14},
{"t":141.5,"hi":2.006,"lo":1.995,"z":"N","s":15},{"t":146.6,"hi":2.000,"lo":1.991,"z":"N","s":15},
{"t":146.6,"hi":2.000,"lo":1.991,"z":"SS","s":16},{"t":153.4,"hi":1.975,"lo":1.951,"z":"SS","s":16},{"t":160.1,"hi":1.954,"lo":1.925,"z":"SS","s":16},{"t":165.2,"hi":1.941,"lo":1.922,"z":"SS","s":16},
{"t":165.2,"hi":1.941,"lo":1.922,"z":"N","s":17},{"t":170.4,"hi":1.932,"lo":1.918,"z":"N","s":17},
{"t":170.4,"hi":1.932,"lo":1.918,"z":"SS","s":18},{"t":177.1,"hi":1.920,"lo":1.894,"z":"SS","s":18},{"t":182.2,"hi":1.906,"lo":1.882,"z":"SS","s":18},{"t":195.7,"hi":1.878,"lo":1.863,"z":"SS","s":18},{"t":203.6,"hi":1.865,"lo":1.854,"z":"SS","s":18},
{"t":203.6,"hi":1.865,"lo":1.854,"z":"N","s":19},{"t":209.9,"hi":1.867,"lo":1.854,"z":"N","s":19},
{"t":209.9,"hi":1.867,"lo":1.854,"z":"SD","s":20},{"t":214.6,"hi":1.886,"lo":1.873,"z":"SD","s":20},{"t":219.4,"hi":1.903,"lo":1.892,"z":"SD","s":20},{"t":223.3,"hi":1.910,"lo":1.901,"z":"SD","s":20},
{"t":223.3,"hi":1.910,"lo":1.901,"z":"N","s":21},{"t":227.3,"hi":1.913,"lo":1.901,"z":"N","s":21},
{"t":227.3,"hi":1.913,"lo":1.901,"z":"SD","s":22},{"t":237.6,"hi":1.935,"lo":1.920,"z":"SD","s":22},{"t":243.1,"hi":1.943,"lo":1.925,"z":"SD","s":22},{"t":247.0,"hi":1.963,"lo":1.941,"z":"SD","s":22},{"t":251.0,"hi":1.989,"lo":1.963,"z":"SD","s":22},{"t":256.1,"hi":2.041,"lo":2.015,"z":"SD","s":22},{"t":260.1,"hi":2.082,"lo":2.046,"z":"SD","s":22},{"t":264.0,"hi":2.079,"lo":2.048,"z":"SD","s":22},
{"t":264.0,"hi":2.079,"lo":2.048,"z":"N","s":23},{"t":271.9,"hi":2.071,"lo":2.048,"z":"N","s":23},{"t":279.8,"hi":2.063,"lo":2.043,"z":"N","s":23},{"t":282.2,"hi":2.044,"lo":2.036,"z":"N","s":23},
{"t":282.2,"hi":2.044,"lo":2.036,"z":"SS","s":24},{"t":283.8,"hi":2.036,"lo":2.025,"z":"SS","s":24},{"t":288.9,"hi":2.020,"lo":2.008,"z":"SS","s":24},{"t":295.7,"hi":2.005,"lo":1.995,"z":"SS","s":24},
{"t":295.7,"hi":2.005,"lo":1.995,"z":"N","s":25},{"t":299.6,"hi":2.008,"lo":1.998,"z":"N","s":25},{"t":306.3,"hi":2.010,"lo":2.003,"z":"N","s":25},
{"t":306.3,"hi":2.010,"lo":2.003,"z":"SD","s":26},{"t":310.7,"hi":2.017,"lo":2.012,"z":"SD","s":26},{"t":314.2,"hi":2.014,"lo":2.010,"z":"SD","s":26},
{"t":314.2,"hi":2.014,"lo":2.010,"z":"N","s":27},{"t":318.2,"hi":2.008,"lo":2.001,"z":"N","s":27},
{"t":318.2,"hi":2.008,"lo":2.001,"z":"SS","s":28},{"t":326.1,"hi":1.998,"lo":1.982,"z":"SS","s":28},{"t":331.2,"hi":1.989,"lo":1.976,"z":"SS","s":28},
{"t":331.2,"hi":1.989,"lo":1.976,"z":"N","s":29},{"t":337.2,"hi":1.989,"lo":1.981,"z":"N","s":29},{"t":343.1,"hi":1.989,"lo":1.986,"z":"N","s":29},
{"t":343.1,"hi":1.989,"lo":1.986,"z":"SD","s":30},{"t":347.0,"hi":2.008,"lo":1.995,"z":"SD","s":30},{"t":352.2,"hi":2.043,"lo":2.019,"z":"SD","s":30}
]
},
"vconcat": [
{
"width": 1000, "height": 466,
"title": {"text": "Regal Asian Investments Limited Ordinary (RG8) - Daily", "anchor": "start", "orient": "top", "frame": "group", "offset": -12, "dx": 3, "font": "Liberation Sans", "fontSize": 10.5, "fontWeight": "bold", "color": "#1a1a1a"},
"layer": [
{"data": {"name": "lt"}, "mark": {"type": "area", "interpolate": "monotone", "opacity": 1},
 "encoding": {
  "x": {"field": "t", "type": "quantitative", "scale": {"domain": [-12.65, 382.6], "nice": false, "zero": false},
        "axis": {"orient": "bottom", "values": [0,20,40,63,80,103,124,145,168,189,211,233,252,273,294,314,334], "tickCount": 60, "labelExpr": "['2023','Feb','Mar','Apr','May','Jun','Jul','Aug','Sep','Oct','Nov','Dec','2024','Feb','Mar','Apr','May'][indexof([0,20,40,63,80,103,124,145,168,189,211,233,252,273,294,314,334], datum.value)]", "labelAlign": "left", "labelBaseline": "top", "labelOffset": 1, "labelPadding": 1, "tickSize": 4, "labelOverlap": false, "labelFlush": false, "minExtent": 15, "maxExtent": 15, "domainColor": "#9a9a9a"}},
  "y": {"field": "hi", "type": "quantitative", "scale": {"domain": [1.803, 2.2447], "nice": false, "zero": false},
        "axis": {"orient": "right", "offset": -48, "values": [1.82,1.84,1.86,1.88,1.90,1.92,1.94,1.96,1.98,2.00,2.02,2.04,2.06,2.08,2.10,2.12,2.14,2.16,2.18,2.20,2.22,2.24], "tickCount": 60, "format": ".2f", "tickSize": 3, "labelAlign": "right", "labelPadding": 43, "labelFontSize": 10.5, "labelFlush": false, "labelOverlap": false, "labelBound": false}},
  "y2": {"field": "lo"},
  "color": {"field": "z", "type": "nominal",
            "scale": {"domain": ["SD", "LD", "SS", "LS", "N"], "range": ["#00ee00", "#3cb371", "#ffb3b3", "#ff7373", "#ff661a"]},
            "legend": {"orient": "none", "legendX": 7, "legendY": 412.5, "title": null, "columns": 2, "direction": "horizontal", "values": ["SD", "LD", "SS", "LS"], "symbolType": "M-1,-1L2.09,-1L2.09,1L-1,1Z", "symbolSize": 121, "symbolStrokeWidth": 0, "symbolOpacity": 1, "labelExpr": "datum.value == 'LD' ? 'Short- / Long-term demand zone' : datum.value == 'LS' ? 'Short- / Long-term supply zone' : ''", "labelFont": "Liberation Sans", "labelFontSize": 10.5, "labelFontWeight": "normal", "labelColor": "#000000", "columnPadding": 1, "rowPadding": 1, "labelOffset": 12, "padding": 0}},
  "detail": {"field": "s"}
 }},
{"data": {"name": "st"}, "mark": {"type": "area", "interpolate": "monotone", "opacity": 1},
 "encoding": {
  "x": {"field": "t", "type": "quantitative"},
  "y": {"field": "hi", "type": "quantitative"},
  "y2": {"field": "lo"},
  "color": {"field": "z", "type": "nominal"},
  "detail": {"field": "s"}
 }},
{"data": {"name": "px"}, "mark": {"type": "rule", "strokeWidth": 1},
 "encoding": {
  "x": {"field": "t", "type": "quantitative"},
  "y": {"field": "l", "type": "quantitative"},
  "y2": {"field": "h"},
  "stroke": {"condition": {"test": "datum.c < datum.o", "value": "#000000"}, "value": "#8a8a8a"}
 }},
{"data": {"name": "px"}, "mark": {"type": "bar", "size": 2, "strokeWidth": 1, "opacity": 1},
 "encoding": {
  "x": {"field": "t", "type": "quantitative"},
  "y": {"field": "o", "type": "quantitative"},
  "y2": {"field": "c"},
  "fill": {"condition": {"test": "datum.c < datum.o", "value": "#000000"}, "value": "#ffffff"},
  "stroke": {"condition": {"test": "datum.c < datum.o", "value": "#000000"}, "value": "#7a7a7a"}
 }},
{"data": {"values": []}, "mark": {"type": "rule"},
 "encoding": {
  "x": {"field": "t", "type": "quantitative"},
  "stroke": {"field": "p", "type": "nominal", "scale": {"domain": ["Demand point", "Supply point"], "range": ["#00dd00", "#ff0000"]},
             "legend": {"orient": "none", "legendX": 5, "legendY": 437.5, "title": null, "symbolType": "M-1,0L9,0", "symbolSize": 67, "symbolStrokeWidth": 3, "symbolDash": [2, 2], "labelFont": "Liberation Sans", "labelFontSize": 10.5, "labelFontWeight": "normal", "labelColor": "#000000", "labelOffset": 39, "rowPadding": 1, "padding": 0}}
 }}
]
},
{
"width": 1000, "height": 81,
"title": {"text": "Volume", "anchor": "start", "orient": "top", "frame": "group", "offset": -13, "dx": 3, "font": "Liberation Sans", "fontSize": 10.5, "fontWeight": "bold", "color": "#5c2e91"},
"data": {"name": "px"},
"mark": {"type": "bar", "size": 1, "opacity": 1},
"encoding": {
 "x": {"field": "t", "type": "quantitative", "scale": {"domain": [-12.65, 382.6], "nice": false, "zero": false},
       "axis": {"orient": "top", "labels": false, "ticks": false, "domain": true, "domainWidth": 2, "domainColor": "#a0a0a0", "minExtent": 0, "maxExtent": 0}},
 "y": {"field": "v", "type": "quantitative", "scale": {"domain": [-0.45, 7.0], "nice": false, "zero": false},
       "axis": {"orient": "right", "offset": -48, "values": [0, 2, 4, 6], "tickCount": 20, "labelExpr": "datum.value == 0 ? '0' : datum.value + 'M'", "tickSize": 3, "labelAlign": "right", "labelPadding": 43, "labelFontSize": 10.5, "labelOffset": -2, "labelFlush": false, "labelOverlap": false}},
 "y2": {"datum": 0},
 "color": {"value": "#8484d4"}
}
}
]
}
